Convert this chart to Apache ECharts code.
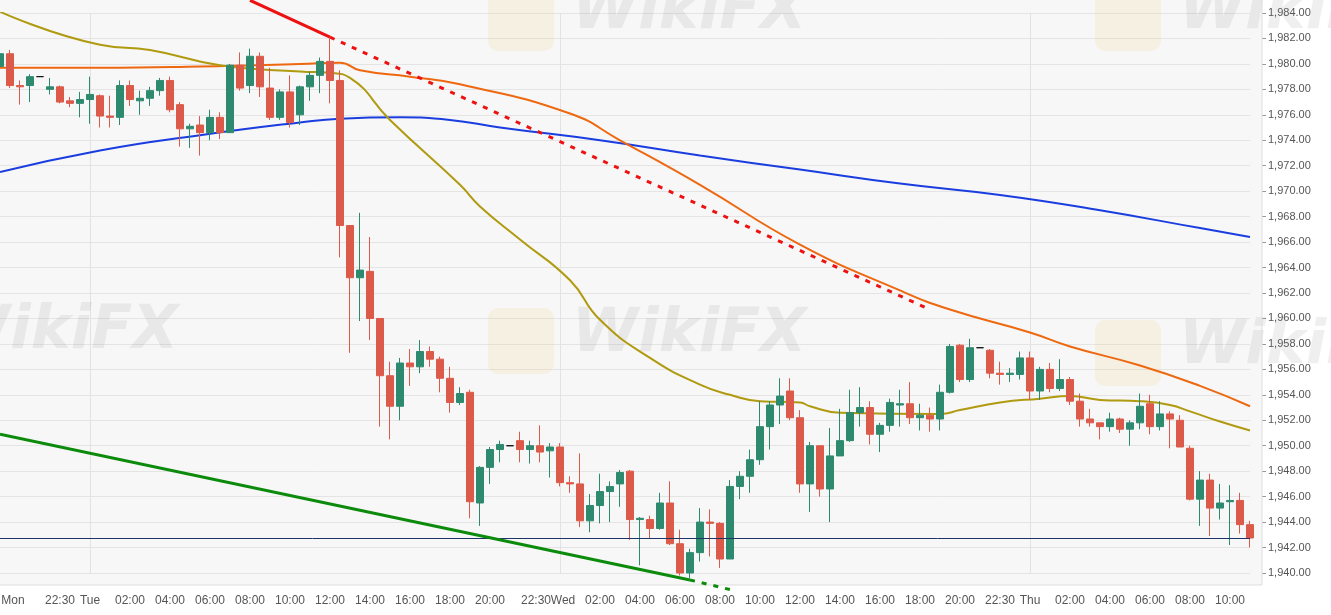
<!DOCTYPE html>
<html><head><meta charset="utf-8">
<script src="https://cdn.jsdelivr.net/npm/echarts@6/dist/echarts.min.js"></script>
<style>html,body{margin:0;padding:0;background:#fff}#c{width:1331px;height:615px}</style>
</head><body><div id="c"></div>
<script>
// OHLC: [open, close, low, high]
const ohlc = [
[1979.8,1980.8,1979.8,1982.7],[1980.8,1978.3,1978.1,1981.1],[1978.3,1978.2,1976.8,1978.7],[1978.3,1979.0,1977.0,1979.2],
[1979.0,1979.0,1979.0,1979.0],[1978.0,1978.2,1977.6,1978.9],[1978.2,1977.0,1976.9,1978.3],[1977.1,1976.9,1976.6,1977.4],
[1976.9,1977.2,1975.8,1977.8],[1977.2,1977.6,1975.3,1979.0],[1977.5,1975.9,1975.0,1977.6],[1975.9,1975.8,1975.0,1977.5],
[1975.8,1978.3,1975.2,1978.7],[1978.3,1977.2,1976.7,1978.7],[1977.1,1977.3,1976.0,1977.9],[1977.3,1977.9,1976.7,1978.2],
[1977.9,1978.7,1977.5,1978.9],[1978.7,1976.4,1976.2,1979.0],[1976.8,1974.9,1973.5,1977.0],[1974.9,1975.1,1973.4,1975.3],
[1975.2,1974.6,1972.8,1975.9],[1974.6,1975.8,1974.0,1976.4],[1975.8,1974.6,1974.1,1976.2],[1974.6,1979.9,1974.6,1980.0],
[1979.9,1978.1,1977.9,1980.9],[1978.3,1980.6,1977.7,1981.2],[1980.6,1978.2,1977.4,1980.9],[1978.1,1975.8,1975.6,1979.7],
[1975.8,1977.8,1975.6,1978.0],[1977.8,1975.4,1975.0,1979.1],[1976.0,1978.2,1975.2,1978.3],[1978.2,1979.1,1977.1,1979.4],
[1979.1,1980.2,1977.7,1980.5],[1980.2,1978.7,1976.9,1982.0],[1978.7,1967.3,1964.8,1979.5],[1967.3,1963.2,1957.3,1967.3],
[1963.2,1963.8,1959.8,1968.3],[1963.7,1960.0,1958.3,1966.4],[1960.0,1955.5,1951.5,1960.0],[1955.5,1953.1,1950.5,1956.6],
[1953.1,1956.5,1952.0,1956.9],[1956.5,1956.2,1954.7,1957.6],[1956.2,1957.4,1955.7,1958.3],[1957.4,1956.8,1956.2,1957.8],
[1956.8,1955.3,1954.2,1957.0],[1955.3,1953.4,1952.6,1956.2],[1953.4,1954.1,1953.2,1954.6],[1954.2,1945.6,1944.3,1954.4],
[1945.5,1948.3,1943.7,1948.4],[1948.3,1949.7,1947.0,1949.9],[1949.7,1950.1,1948.7,1950.4],[1950.0,1950.0,1950.0,1950.0],
[1950.4,1949.7,1948.7,1951.1],[1949.7,1950.0,1948.6,1950.4],[1950.0,1949.5,1948.7,1951.6],[1949.6,1949.9,1947.5,1950.2],
[1949.9,1947.1,1946.8,1950.2],[1947.1,1947.0,1946.3,1947.6],[1947.0,1944.1,1943.6,1949.4],[1944.1,1945.3,1943.2,1946.2],
[1945.3,1946.4,1943.9,1947.8],[1946.4,1946.8,1944.0,1947.2],[1947.0,1947.9,1945.2,1948.1],[1948.0,1944.2,1942.6,1948.1],
[1944.2,1944.3,1940.6,1944.4],[1944.2,1943.5,1942.7,1944.5],[1943.5,1945.5,1943.4,1946.3],[1945.5,1942.3,1942.2,1947.2],
[1942.3,1940.0,1939.8,1943.4],[1940.0,1941.6,1939.6,1941.9],[1941.6,1944.0,1940.9,1945.1],[1944.0,1943.9,1941.3,1945.0],
[1943.9,1941.1,1940.4,1944.0],[1941.1,1946.8,1941.1,1947.3],[1946.8,1947.6,1945.8,1948.0],[1947.6,1948.9,1946.3,1949.7],
[1948.9,1951.5,1948.5,1953.5],[1951.5,1953.2,1949.7,1953.5],[1953.2,1953.9,1951.7,1955.3],[1954.3,1952.2,1952.0,1955.3],
[1952.2,1947.0,1946.3,1952.8],[1947.0,1950.0,1944.8,1950.3],[1950.0,1946.6,1946.0,1950.0],[1946.6,1949.2,1944.0,1951.4],
[1949.2,1950.4,1949.2,1952.9],[1950.4,1952.6,1950.3,1954.4],[1952.6,1953.0,1951.5,1954.6],[1953.0,1950.9,1950.1,1953.5],
[1950.9,1951.6,1949.5,1951.8],[1951.6,1953.4,1951.1,1953.7],[1953.2,1953.3,1951.5,1954.4],[1953.3,1952.2,1951.7,1955.0],
[1952.2,1952.4,1951.2,1953.3],[1952.4,1952.1,1951.1,1953.0],[1952.1,1954.2,1951.2,1954.8],[1954.2,1957.8,1954.1,1958.0],
[1957.9,1955.2,1955.0,1958.0],[1955.2,1957.7,1955.0,1958.4],[1957.7,1957.7,1957.7,1957.7],[1957.5,1955.7,1955.3,1957.6],
[1955.7,1955.6,1954.8,1956.6],[1955.6,1955.7,1955.0,1956.1],[1955.6,1956.9,1955.2,1957.4],[1956.9,1954.3,1953.6,1957.4],
[1954.3,1956.0,1953.6,1956.2],[1956.0,1954.5,1954.2,1956.5],[1954.5,1955.2,1954.3,1956.8],[1955.2,1953.5,1953.2,1955.4],
[1953.5,1952.1,1951.5,1954.1],[1952.1,1951.8,1951.5,1952.9],[1951.8,1951.5,1950.5,1951.8],[1951.5,1952.1,1951.1,1952.6],
[1952.1,1951.3,1951.0,1952.2],[1951.3,1951.8,1950.0,1952.0],[1951.8,1953.1,1951.3,1954.1],[1953.3,1951.5,1950.9,1954.0],
[1951.5,1952.5,1951.2,1953.5],[1952.5,1952.1,1949.8,1952.7],[1952.0,1949.9,1949.9,1952.4],[1949.8,1945.8,1945.7,1950.0],
[1945.8,1947.3,1943.7,1948.0],[1947.3,1945.1,1942.9,1947.8],[1945.1,1945.5,1944.2,1947.0],[1945.6,1945.7,1942.2,1946.9],
[1945.7,1943.8,1943.1,1946.3],[1943.8,1942.75,1942.0,1944.1]
];
const dojiIdx = [4, 51, 98];
const tickLabels = {1:'Mon',6:'22:30',9:'Tue',13:'02:00',17:'04:00',21:'06:00',25:'08:00',29:'10:00',33:'12:00',37:'14:00',41:'16:00',45:'18:00',49:'20:00',54:'22:30',56:'Wed',60:'02:00',64:'04:00',68:'06:00',72:'08:00',76:'10:00',80:'12:00',84:'14:00',88:'16:00',92:'18:00',96:'20:00',100:'22:30',103:'Thu',107:'02:00',111:'04:00',115:'06:00',119:'08:00',123:'10:00'};
const dayIdx = [9, 56, 103];
const maOlive = [[0,1984.1],[10,1981.5],[15,1981.1],[22,1979.9],[30,1979.4],[33,1979.3],[34.5,1978.9],[38.5,1975.6],[46,1970.5],[48,1968.8],[52,1966.2],[56.5,1963.0],[60,1959.9],[65,1956.9],[70,1954.8],[73,1954.0],[76,1953.5],[79.5,1953.4],[81,1953.1],[84,1952.6],[93.5,1952.5],[96,1952.8],[100,1953.4],[103.5,1953.7],[106.5,1953.9],[110,1953.6],[113.5,1953.5],[117,1953.2],[119,1952.7],[122,1951.9],[125,1951.2]];
const maOrange = [[0,1979.7],[10,1979.7],[20,1979.8],[30,1980.0],[33.5,1980.1],[36,1979.5],[41,1979.0],[45.8,1978.4],[56.5,1976.1],[62,1974.0],[70,1970.5],[80,1965.8],[90,1962.2],[95,1960.7],[102.8,1958.9],[107,1957.8],[114,1956.3],[120,1954.7],[125,1953.1]];
const maBlue = [[0,1971.5],[10,1973.2],[20,1974.4],[30,1975.4],[34,1975.7],[40,1975.8],[45,1975.6],[50,1975.0],[60,1974.0],[70,1972.8],[80,1971.7],[90,1970.6],[100,1969.7],[110,1968.5],[120,1967.1],[125,1966.4]];
const redTrendSolid = [[24.5,1985.0],[33,1982.1]];
const redTrendDotted = [[33,1982.1],[93,1960.7]];
const greenTrendSolid = [[0,1950.9],[69,1939.45]];
const greenTrendDotted = [[69,1939.45],[73,1938.7]];
const lastPrice = 1942.75;

const UP='#2e8a6f', DOWN='#dc5a49';
const cats = ohlc.map((_, i) => String(i));
const candleData = ohlc.map((d, i) => dojiIdx.includes(i) ?
  {value:d, itemStyle:{color:'#111',color0:'#111',borderColor:'#111',borderColor0:'#111'}} : d);
function fmt(v){const s=v.toFixed(2);const [a,b]=s.split('.');return a.replace(/\B(?=(\d{3})+(?!\d))/g,',')+'.'+b;}
function xfmt(v){const i=+v;const t=tickLabels[i];if(!t)return '';
  if(i===1)return '{l|'+t+'}'; if(i===54)return '{s|'+t+'}'; if(i===56)return '{w|'+t+'}'; return t;}
const chart = echarts.init(document.getElementById('c'));
const wm = (x,y,size)=>[
  {type:'rect',left:x,top:y,shape:{width:size*1.1,height:size*1.1,r:10},style:{fill:'rgba(245,205,120,0.16)'},z:1,silent:true},
  {type:'text',left:x+size*1.4,top:y-size*0.05,style:{text:'WikiFX',font:'italic bold '+size+'px "DejaVu Sans"',fill:'rgba(130,120,120,0.12)'},z:1,silent:true}
];
const lab={color:'#555',fontSize:12,fontFamily:'Arial, Liberation Sans'};
chart.setOption({
  animation:false,
  backgroundColor:'#fff',
  grid:{left:0,top:13,width:1250,height:560,show:true,backgroundColor:'#f7f7f7',borderWidth:0,outerBoundsMode:'none',containLabel:false},
  graphic:[
    {type:'rect',left:1250,top:0,shape:{width:12,height:585},style:{fill:'#f7f7f7'},z:-10},
    {type:'rect',left:0,top:0,shape:{width:1262,height:13},style:{fill:'#f7f7f7'},z:-10},
    {type:'rect',left:0,top:573,shape:{width:1262,height:12},style:{fill:'#f7f7f7'},z:-10},
    {type:'line',shape:{x1:1262,y1:0,x2:1262,y2:585},style:{stroke:'#ddd',lineWidth:1},z:5},
    {type:'line',shape:{x1:0,y1:585,x2:1262,y2:585},style:{stroke:'#ddd',lineWidth:1},z:5},
    ...wm(488,-15,60),...wm(1095,-15,60),...wm(-140,305,60),...wm(488,308,60),...wm(1095,320,60)
  ],
  xAxis:{type:'category',data:cats,boundaryGap:false,offset:12,
    axisLine:{show:false},axisTick:{show:false},
    axisLabel:{interval:0,hideOverlap:false,formatter:xfmt,...lab,margin:10,
      rich:{l:{...lab,padding:[0,0,0,6]},s:{...lab,padding:[0,8,0,0]},w:{...lab,padding:[0,0,0,6]}}},
    splitLine:{show:true,interval:(i)=>dayIdx.includes(i),lineStyle:{color:'#e2e2e2'}}},
  yAxis:{type:'value',position:'right',min:1940,max:1984,interval:2,offset:12,
    axisLine:{show:false},axisTick:{show:true,length:4,lineStyle:{color:'#999'}},
    axisLabel:{formatter:fmt,color:'#555',fontSize:11,fontFamily:'Arial, Liberation Sans',margin:6},
    splitLine:{lineStyle:{color:'#e4e4e4'}}},
  series:[
    {type:'line',data:maBlue,smooth:true,showSymbol:false,lineStyle:{color:'#1a3de0',width:2},z:3},
    {type:'line',data:maOrange,smooth:true,showSymbol:false,lineStyle:{color:'#ee6810',width:2},z:3},
    {type:'line',data:maOlive,smooth:true,showSymbol:false,lineStyle:{color:'#b09a10',width:2},z:3},
    {type:'candlestick',data:candleData,barWidth:7,clip:false,
      itemStyle:{color:UP,color0:DOWN,borderColor:UP,borderColor0:DOWN,borderWidth:1},z:4,
      markLine:{silent:true,symbol:'none',label:{show:false},lineStyle:{color:'#1f3466',width:1,type:'solid'},data:[{yAxis:lastPrice}]}},
    {type:'line',data:redTrendSolid,showSymbol:false,clip:false,lineStyle:{color:'#ee1111',width:3},z:5},
    {type:'line',data:redTrendDotted,showSymbol:false,lineStyle:{color:'#ee1111',width:3,type:[5,7]},z:5},
    {type:'line',data:greenTrendSolid,showSymbol:false,clip:false,lineStyle:{color:'#0b8a0b',width:3},z:5},
    {type:'line',data:greenTrendDotted,showSymbol:false,clip:false,lineStyle:{color:'#0b8a0b',width:3,type:[5,7]},z:5}
  ]
});
</script></body></html>
